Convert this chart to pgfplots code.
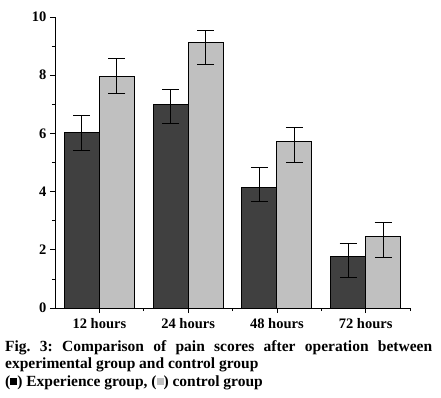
\documentclass[border=0pt]{standalone}
\usepackage{fontspec}
\setmainfont{Liberation Serif}
\usepackage{pgfplots}
\pgfplotsset{compat=1.18}
\definecolor{darkbar}{HTML}{404040}
\definecolor{lightbar}{HTML}{C0C0C0}
\frenchspacing
\begin{document}
\begin{tikzpicture}
\begin{axis}[
  scale only axis,
  width=355pt, height=291pt,
  xmin=-0.5, xmax=3.5, ymin=0, ymax=10,
  axis lines=left,
  axis line style={-, line width=0.7pt},
  ybar=0pt, bar width=35pt,
  xtick={0,1,2,3},
  xticklabels={12 hours,24 hours,48 hours,72 hours},
  minor xtick={0.5,1.5,2.5,3.5},
  ytick={0,2,4,6,8,10},
  minor ytick={1,3,5,7,9},
  tick align=outside,
  major tick length=5pt,
  minor tick length=3pt,
  tick style={black, line width=0.7pt},
  /pgf/number format/assume math mode=true,
  ticklabel style={font=\bfseries\fontsize{14.5}{16}\selectfont},
  xticklabel style={yshift=-2pt},
  error bars/error bar style={line width=0.8pt, black},
  error bars/error mark options={rotate=90, mark size=8.5pt, line width=0.8pt, black},
]
\addplot[fill=darkbar, draw=black, line width=0.8pt,
  error bars/.cd, y dir=both, y explicit]
  coordinates {
    (0,6.03) +- (0,0.6)
    (1,6.99) += (0,0.52) -= (0,0.66)
    (2,4.14) += (0,0.69) -= (0,0.49)
    (3,1.77) += (0,0.45) -= (0,0.73)
  };
\addplot[fill=lightbar, draw=black, line width=0.8pt,
  error bars/.cd, y dir=both, y explicit]
  coordinates {
    (0,7.97) += (0,0.6) -= (0,0.58)
    (1,9.14) += (0,0.39) -= (0,0.77)
    (2,5.72) += (0,0.48) -= (0,0.71)
    (3,2.46) += (0,0.48) -= (0,0.73)
  };
\end{axis}
\node[anchor=north west, inner sep=0pt, text width=427pt, align=justify,
      font=\bfseries\fontsize{15.5}{17.5}\selectfont]
  at ([xshift=-50pt, yshift=-32pt]current axis.south west)
  {Fig. 3: Comparison of pain scores after operation between\linebreak experimental group and control group\\
   (\raisebox{1pt}{\rule{0.45em}{0.45em}}) Experience group, (\raisebox{1pt}{\textcolor{lightbar}{\rule{0.45em}{0.45em}}}) control group};
\path (current axis.south west) ++(-55pt,-89pt) rectangle ++(441pt,397pt);
\end{tikzpicture}
\end{document}
